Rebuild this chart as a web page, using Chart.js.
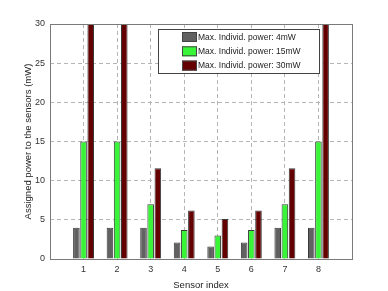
<!DOCTYPE html>
<html>
<head>
<meta charset="utf-8">
<script src="https://cdn.jsdelivr.net/npm/chart.js@4/dist/chart.umd.min.js"></script>
<style>
	html, body { margin: 0; padding: 0; background: #fff; }
	#wrap { width: 388px; height: 291px; }
</style>
</head>
<body>
<div id="wrap"><canvas id="chart"></canvas></div>
<script>
'use strict';

// sensor index 1..8, padded with empty slots 0 and 9 like the original axis
const sensorLabels = ['0', '1', '2', '3', '4', '5', '6', '7', '8', '9'];
const seriesNames = ['Max. Individ. power: 4mW', 'Max. Individ. power: 15mW', 'Max. Individ. power: 30mW'];
const power4mW = [null, 4, 4, 4, 2.1, 1.6, 2.1, 4, 4, null];
const power15mW = [null, 15, 15, 7, 3.7, 3.0, 3.7, 7, 15, null];
const power30mW = [null, 30, 30, 11.6, 6.2, 5.1, 6.2, 11.6, 30, null];
const yTicks = [0, 5, 10, 15, 20, 25, 30];

const fillColors = ['#616161', '#38f538', '#640000'];
const fontFamily = "'Liberation Sans', Arial, sans-serif";

// draws the box frame and the legend inside the plot (matlab style)
const frameAndLegend = {
	id: 'frameAndLegend',
	afterDraw(chart) {
		const ctx = chart.ctx;
		const area = chart.chartArea;
		ctx.save();
		ctx.strokeStyle = '#7a7a7a';
		ctx.lineWidth = 1;
		ctx.strokeRect(Math.round(area.left) + 0.5, Math.round(area.top) + 0.5,
			Math.round(area.right - area.left), Math.round(area.bottom - area.top));

		const boxX = 158, boxY = 29, boxW = 161, boxH = 44;
		ctx.fillStyle = '#fff';
		ctx.fillRect(boxX, boxY, boxW, boxH);
		ctx.strokeStyle = '#444';
		ctx.strokeRect(boxX + 0.5, boxY + 0.5, boxW, boxH);

		ctx.font = '8.5px ' + fontFamily;
		ctx.textBaseline = 'middle';
		chart.data.datasets.forEach(function (ds, i) {
			const cy = 37 + i * 14.3;
			ctx.fillStyle = ds.backgroundColor;
			ctx.fillRect(182, cy - 5, 15, 10);
			ctx.strokeStyle = '#444';
			ctx.strokeRect(182.5, cy - 4.5, 14, 9);
			ctx.fillStyle = '#222';
			ctx.fillText(ds.label, 198, cy + 0.5);
		});
		ctx.restore();
	}
};

const datasets = [power4mW, power15mW, power30mW].map(function (values, i) {
	return {
		label: seriesNames[i],
		data: values,
		backgroundColor: fillColors[i],
		borderColor: '#3a3a3a',
		borderWidth: 1,
		categoryPercentage: 0.64,
		barPercentage: 0.92
	};
});

new Chart(document.getElementById('chart'), {
	type: 'bar',
	data: {
		labels: sensorLabels,
		datasets: datasets
	},
	plugins: [frameAndLegend],
	options: {
		responsive: true,
		maintainAspectRatio: false,
		animation: false,
		layout: {
			padding: { left: 23, right: 36, top: 24, bottom: 0 }
		},
		plugins: {
			legend: { display: false },
			tooltip: { enabled: false }
		},
		scales: {
			x: {
				offset: false,
				grid: {
					offset: false,
					color: '#b5b5b5',
					drawTicks: false
				},
				border: { display: false, dash: [4, 3] },
				ticks: {
					color: '#333',
					font: { family: fontFamily, size: 9 },
					padding: 5,
					maxRotation: 0,
					autoSkip: false,
					callback: function (value, index) {
						const lbl = sensorLabels[index];
						return (lbl === '0' || lbl === '9') ? '' : lbl;
					}
				},
				title: {
					display: true,
					text: 'Sensor index',
					color: '#222',
					font: { family: fontFamily, size: 9.5 },
					padding: { top: 3, bottom: 0 }
				},
				afterFit: function (scale) { scale.height = 32; }
			},
			y: {
				min: 0,
				max: 30,
				afterBuildTicks: function (scale) {
					scale.ticks = yTicks.map(function (v) { return { value: v }; });
				},
				grid: {
					color: '#b5b5b5',
					drawTicks: false
				},
				border: { display: false, dash: [4, 3] },
				ticks: {
					color: '#333',
					font: { family: fontFamily, size: 9 },
					padding: 5
				},
				title: {
					display: true,
					text: 'Assigned power to the sensors (mW)',
					color: '#222',
					font: { family: fontFamily, size: 9.5 },
					padding: { top: 0, bottom: 0 }
				},
				afterFit: function (scale) { scale.width = 27; }
			}
		}
	}
});
</script>
</body>
</html>
